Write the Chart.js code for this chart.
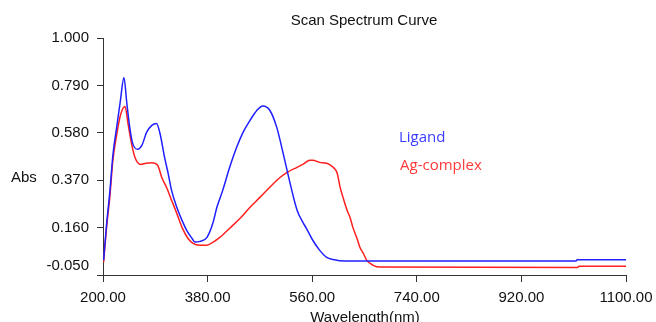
<!DOCTYPE html>
<html>
<head>
<meta charset="utf-8">
<script src="https://cdn.jsdelivr.net/npm/chart.js@4.4.0/dist/chart.umd.min.js"></script>
<style>
  html, body { margin: 0; padding: 0; background: #fff; }
  canvas { display: block; }
</style>
</head>
<body>
<canvas id="scanChart" width="656" height="322"></canvas>
<script>
// spectrum data
const ligandWl = [201, 206, 212, 217, 224, 230, 236, 241, 246, 251, 260, 267, 275, 284, 292, 298, 306, 312, 318, 327, 336, 344, 353, 358, 367, 379, 389, 396, 406, 418, 430, 441, 453, 465, 475, 487, 499, 510, 522, 534, 544, 550, 561, 573, 585, 596, 616, 1014, 1016, 1100];
const ligandAbs = [0.015, 0.170, 0.325, 0.480, 0.613, 0.724, 0.825, 0.711, 0.604, 0.533, 0.507, 0.525, 0.582, 0.613, 0.621, 0.578, 0.471, 0.401, 0.325, 0.250, 0.192, 0.148, 0.113, 0.096, 0.099, 0.117, 0.179, 0.250, 0.325, 0.427, 0.516, 0.582, 0.635, 0.680, 0.699, 0.680, 0.604, 0.489, 0.356, 0.237, 0.183, 0.157, 0.104, 0.059, 0.028, 0.019, 0.012, 0.012, 0.018, 0.018];

const complexWl = [201, 206, 212, 217, 224, 230, 238, 243, 249, 255, 265, 274, 284, 294, 301, 310, 318, 327, 336, 346, 355, 367, 379, 389, 401, 418, 436, 453, 470, 487, 505, 517, 534, 544, 556, 561, 573, 585, 596, 603, 608, 613, 620, 625, 630, 637, 642, 648, 654, 665, 677, 1017, 1019, 1100];
const complexAbs = [0.006, 0.157, 0.303, 0.458, 0.578, 0.658, 0.697, 0.622, 0.533, 0.471, 0.440, 0.445, 0.447, 0.436, 0.383, 0.334, 0.281, 0.223, 0.161, 0.113, 0.090, 0.082, 0.082, 0.095, 0.117, 0.157, 0.201, 0.250, 0.294, 0.339, 0.383, 0.405, 0.427, 0.440, 0.458, 0.458, 0.449, 0.445, 0.427, 0.401, 0.339, 0.294, 0.237, 0.206, 0.161, 0.113, 0.073, 0.046, 0.015, -0.007, -0.015, -0.017, -0.011, -0.011];

const xTicks = [200, 380, 560, 740, 920, 1100];
const yTicks = [-0.05, 0.16, 0.37, 0.58, 0.79, 1.0];

const FONT = 'Liberation Sans, Arial, sans-serif';

function pairs(xs, ys) {
  return xs.map((x, i) => ({ x: x, y: ys[i] }));
}

// text that sits outside the normal chart.js title/legend slots
const overlayText = {
  id: 'overlayText',
  afterDraw(chart) {
    const c = chart.ctx;
    const yScale = chart.scales.y;
    c.save();
    c.fillStyle = '#111';
    c.font = '15px ' + FONT;

    c.textAlign = 'center';
    c.textBaseline = 'alphabetic';
    c.fillText('Scan Spectrum Curve', 364, 25);
    c.fillText('Wavelength(nm)', 365, 322);

    c.textAlign = 'left';
    c.fillText('Abs', 11, 182);

    // y tick labels, lowest one lifted off the x axis
    c.textAlign = 'right';
    c.textBaseline = 'middle';
    yTicks.forEach((v, i) => {
      let py = yScale.getPixelForValue(v);
      if (i === 0) py -= 9;
      c.fillText(v.toFixed(3), 89, py);
    });

    c.textBaseline = 'alphabetic';
    c.textAlign = 'left';
    c.font = '15px "Open Sans", sans-serif';
    c.fillStyle = '#3a3aff';
    c.fillText('Ligand', 399, 142);
    c.fillStyle = '#ff3a3a';
    c.fillText('Ag-complex', 400, 170);
    c.restore();
  }
};

new Chart(document.getElementById('scanChart'), {
  type: 'scatter',
  data: {
    datasets: [
      {
        label: 'Ligand',
        data: pairs(ligandWl, ligandAbs),
        showLine: true,
        borderColor: '#1f1fff',
        borderWidth: 1.5,
        pointRadius: 0,
        cubicInterpolationMode: 'monotone'
      },
      {
        label: 'Ag-complex',
        data: pairs(complexWl, complexAbs),
        showLine: true,
        borderColor: '#ff1f1f',
        borderWidth: 1.5,
        pointRadius: 0,
        cubicInterpolationMode: 'monotone'
      }
    ]
  },
  options: {
    responsive: false,
    animation: false,
    devicePixelRatio: 1,
    layout: { padding: { top: 38, right: 30, left: 0, bottom: 0 } },
    plugins: {
      legend: { display: false },
      title: { display: false },
      tooltip: { enabled: false }
    },
    scales: {
      x: {
        type: 'linear',
        min: 200,
        max: 1100,
        afterBuildTicks: s => { s.ticks = xTicks.map(v => ({ value: v })); },
        afterFit: s => { s.height = 47; s.paddingRight = 0; },
        ticks: {
          callback: v => v.toFixed(2),
          color: '#111',
          font: { family: FONT, size: 15 },
          maxRotation: 0,
          padding: 7
        },
        grid: { drawOnChartArea: false, drawTicks: true, tickLength: 7, color: '#333' },
        border: { display: true, color: '#333', width: 1 }
      },
      y: {
        min: -0.05,
        max: 1.0,
        afterBuildTicks: s => { s.ticks = yTicks.map(v => ({ value: v })); },
        afterFit: s => { s.width = 103; },
        ticks: { display: false },
        grid: { drawOnChartArea: false, drawTicks: true, tickLength: 6, color: '#333' },
        border: { display: true, color: '#333', width: 1 }
      }
    }
  },
  plugins: [overlayText]
});
</script>
</body>
</html>
